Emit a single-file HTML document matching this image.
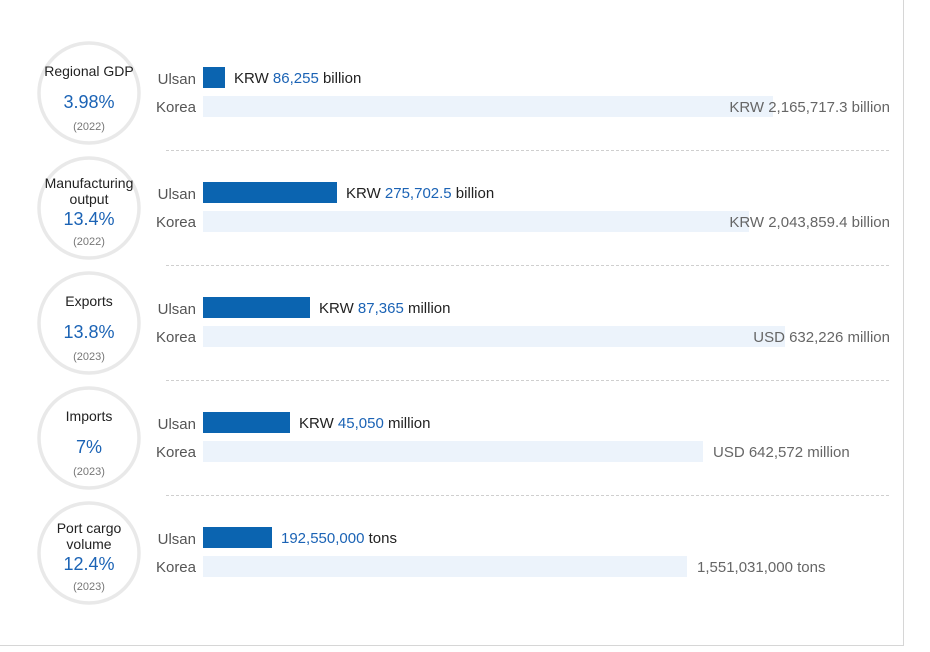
<!DOCTYPE html>
<html><head><meta charset="utf-8">
<style>
html,body{margin:0;padding:0;background:#fff;}
body{width:930px;height:647px;overflow:hidden;font-family:"Liberation Sans",sans-serif;}
svg text{font-family:"Liberation Sans",sans-serif;}
</style></head>
<body>
<svg id="chart" width="930" height="647" xmlns="http://www.w3.org/2000/svg">
<line x1="903.5" y1="0" x2="903.5" y2="646" stroke="#d6d6d6"/>
<line x1="0" y1="645.5" x2="904" y2="645.5" stroke="#d6d6d6"/>
<g id="rows"></g>
</svg>
<script>
const categories = [["Regional GDP"],["Manufacturing","output"],["Exports"],["Imports"],["Port cargo","volume"]];
const shares = ["3.98%","13.4%","13.8%","7%","12.4%"];
const years = ["(2022)","(2022)","(2023)","(2023)","(2023)"];
const ulsanBar = [22,134,107,87,69];
const koreaBar = [570,546,582,500,484];
const ulsanPrefix = ["KRW","KRW","KRW","KRW",""];
const ulsanValues = ["86,255","275,702.5","87,365","45,050","192,550,000"];
const ulsanUnits = ["billion","billion","million","million","tons"];
const koreaLabels = ["KRW 2,165,717.3 billion","KRW 2,043,859.4 billion","USD 632,226 million","USD 642,572 million","1,551,031,000 tons"];

const NS="http://www.w3.org/2000/svg";
const g=document.getElementById('rows');
const x0=203;
function xs(v){return x0+v;}
function rowY(i){return 67+i*115;}
function mk(tag,attrs,parent){const e=document.createElementNS(NS,tag);for(const k in attrs)e.setAttribute(k,attrs[k]);(parent||g).appendChild(e);return e;}

categories.forEach((cat,i)=>{
  const y=rowY(i);
  const cy=y+26;
  const c=mk('circle',{cx:89,cy:cy,r:50,fill:'#fff',stroke:'#e9e9e9','stroke-width':3.5});
  
  
  const multi=cat.length>1;
  cat.forEach((ln,j)=>{
    const t=mk('text',{x:89,y:(multi? cy-20+j*16 : cy-17),'text-anchor':'middle','font-size':14,fill:'#222'});
    t.textContent=ln;
    
    
  });
  const s=mk('text',{x:89,y:(multi? cy+17 : cy+15),'text-anchor':'middle','font-size':18,fill:'#1b63b5'});
  s.textContent=shares[i];
  
  
  const yr=mk('text',{x:89,y:cy+37,'text-anchor':'middle','font-size':11,fill:'#777'});
  yr.textContent=years[i];
  
  

  const lu=mk('text',{x:196,y:y+17,'text-anchor':'end','font-size':15,fill:'#555'});
  lu.textContent='Ulsan';
  
  
  const lk=mk('text',{x:196,y:y+45,'text-anchor':'end','font-size':15,fill:'#555'});
  lk.textContent='Korea';
  
  

  const kb=mk('rect',{x:x0,y:y+29,width:xs(koreaBar[i])-x0,height:21,fill:'#ecf3fb'});
  
  
  const ub=mk('rect',{x:x0,y:y,width:xs(ulsanBar[i])-x0,height:21,fill:'#0b64b0'});
  
  

  const ut=mk('text',{x:xs(ulsanBar[i])+9,y:y+16,'font-size':15,fill:'#222'});
  
  
  if(ulsanPrefix[i]){const p=mk('tspan',{},ut);p.textContent=ulsanPrefix[i]+'  ';p.setAttribute('xml:space','preserve');}
  const v=mk('tspan',{fill:'#1b63b5'},ut);v.textContent=(ulsanPrefix[i]?' ':'')+ulsanValues[i];
  const u=mk('tspan',{},ut);u.textContent=' '+ulsanUnits[i];

  const kt=mk('text',{x:xs(koreaBar[i])+10,y:y+45,'font-size':15,fill:'#666'});
  kt.textContent=koreaLabels[i];
  
  
  const w=kt.getComputedTextLength();
  if(xs(koreaBar[i])+10+w>890) kt.setAttribute('x',890-w);

  if(i<categories.length-1){
    const d=mk('line',{x1:166,y1:y+83.5,x2:890,y2:y+83.5,stroke:'#cfcfcf','stroke-dasharray':'3,2'});
    
    
  }
});
</script>
</body></html>
